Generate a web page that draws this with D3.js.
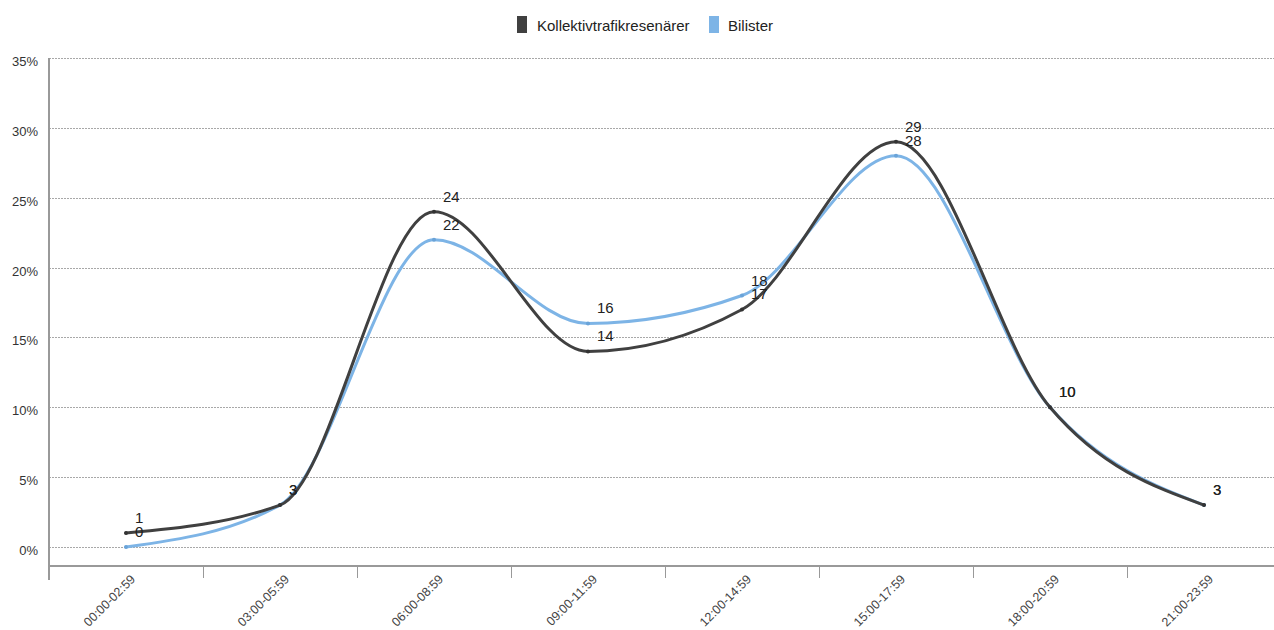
<!DOCTYPE html>
<html>
<head>
<meta charset="utf-8">
<script src="https://cdn.jsdelivr.net/npm/d3@7"></script>
<style>
  html, body { margin: 0; padding: 0; background: #fff; }
  svg { display: block; font-family: "Liberation Sans", Arial, sans-serif; }
</style>
</head>
<body>
<svg id="chart" width="1274" height="630"></svg>
<script>
// Time-of-day intervals
const categories = ["00:00-02:59", "03:00-05:59", "06:00-08:59", "09:00-11:59",
                    "12:00-14:59", "15:00-17:59", "18:00-20:59", "21:00-23:59"];
// Share of trips (%) per interval
const kollektiv = [1, 3, 24, 14, 17, 29, 10, 3];
const bilister  = [0, 3, 22, 16, 18, 28, 10, 3];
const yTicks = [0, 5, 10, 15, 20, 25, 30, 35];

const series = [
  { name: "Kollektivtrafikresenärer", values: kollektiv, color: "#404040", dot: "#333" },
  { name: "Bilister", values: bilister, color: "#7db4e6", dot: "#6aa3d8" }
];

const svg = d3.select("#chart");
const plotLeft = 49, plotRight = 1274, plotTop = 58, zeroY = 547, axisY = 566;

const x = d3.scaleBand().domain(categories).range([plotLeft, plotLeft + 154 * categories.length]);
const y = d3.scaleLinear().domain([0, 35]).range([zeroY, plotTop]);
const cx = d => x(d) + x.bandwidth() / 2;

// Horizontal dotted grid
svg.append("g").selectAll("line").data(yTicks).join("line")
  .attr("x1", plotLeft).attr("x2", plotRight)
  .attr("y1", d => Math.round(y(d)) + 0.5).attr("y2", d => Math.round(y(d)) + 0.5)
  .attr("stroke", "#a8a8a8").attr("stroke-width", 1).attr("stroke-dasharray", "2,1");

// Y tick labels
svg.append("g").selectAll("text").data(yTicks).join("text")
  .attr("x", 38).attr("y", d => y(d) + 8)
  .attr("text-anchor", "end").attr("font-size", 13).attr("fill", "#333")
  .text(d => d + "%");

// Axis lines
svg.append("line").attr("x1", plotLeft).attr("x2", plotLeft).attr("y1", plotTop).attr("y2", 580)
  .attr("stroke", "#999").attr("stroke-width", 2);
svg.append("line").attr("x1", plotLeft).attr("x2", plotRight).attr("y1", axisY).attr("y2", axisY)
  .attr("stroke", "#999").attr("stroke-width", 2);

// Tick marks between bands
svg.append("g").selectAll("line").data(categories.slice(1)).join("line")
  .attr("x1", d => x(d) + 0.5).attr("x2", d => x(d) + 0.5)
  .attr("y1", axisY).attr("y2", 578)
  .attr("stroke", "#999").attr("stroke-width", 1);

// Rotated category labels
svg.append("g").selectAll("text").data(categories).join("text")
  .attr("transform", d => `translate(${cx(d) + 10},${580}) rotate(-45)`)
  .attr("text-anchor", "end").attr("font-size", 12.5).attr("fill", "#444")
  .text(d => d);

// Lines
const line = d3.line()
  .x((d, i) => cx(categories[i]))
  .y(d => y(d))
  .curve(d3.curveMonotoneX);

series.slice().reverse().forEach(s => {
  svg.append("path").datum(s.values)
    .attr("d", line).attr("fill", "none")
    .attr("stroke", s.color).attr("stroke-width", 3)
    .attr("stroke-linecap", "round");
  svg.append("g").selectAll("circle").data(s.values).join("circle")
    .attr("cx", (d, i) => cx(categories[i])).attr("cy", d => y(d))
    .attr("r", 2).attr("fill", s.dot);
});

// Value labels
series.forEach(s => {
  svg.append("g").selectAll("text").data(s.values).join("text")
    .attr("x", (d, i) => cx(categories[i]) + 9).attr("y", d => y(d) - 10)
    .attr("font-size", 15).attr("fill", "#222")
    .text(d => d);
});

// Legend
const legend = svg.append("g");
const legendItems = [
  { s: series[0], rx: 517, tx: 537 },
  { s: series[1], rx: 709, tx: 728 }
];
legendItems.forEach(it => {
  legend.append("rect").attr("x", it.rx).attr("y", 16).attr("width", 10).attr("height", 17)
    .attr("fill", it.s.color);
  legend.append("text").attr("x", it.tx).attr("y", 31).attr("font-size", 15).attr("fill", "#222")
    .text(it.s.name);
});
</script>
</body>
</html>
